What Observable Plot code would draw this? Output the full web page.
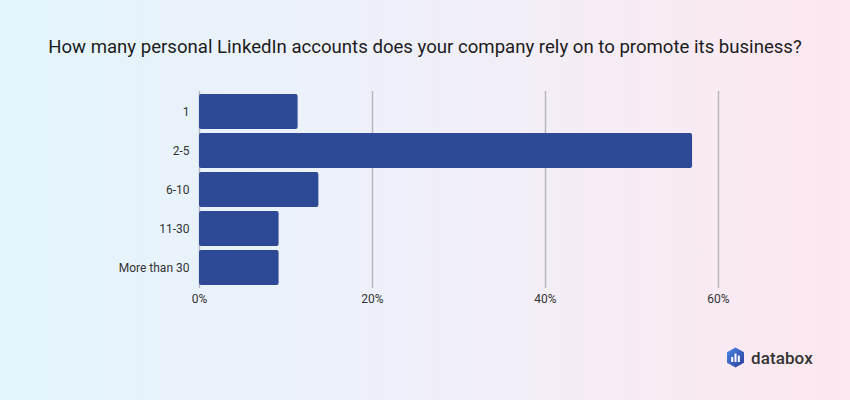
<!DOCTYPE html>
<html>
<head>
<meta charset="utf-8">
<script src="https://cdn.jsdelivr.net/npm/d3@7"></script>
<script src="https://cdn.jsdelivr.net/npm/@observablehq/plot@0.6"></script>
<style>
  html, body { margin: 0; padding: 0; }
  body { width: 850px; height: 400px; overflow: hidden; font-family: Roboto, sans-serif; }
  #wrap { position: relative; width: 850px; height: 400px;
    background: linear-gradient(to right, #e3f5fd 0%, #eef0f9 45%, #f7ecf5 75%, #fde7f0 100%); }
  #title { position: absolute; left: 0; top: 0; width: 850px; height: 70px; line-height: 94px;
    text-align: center; font-size: 18.6px; color: #1c1c1c; }
  #chart { position: absolute; left: 0; top: 70px; }
  #logo { position: absolute; left: 726px; top: 347px; display: flex; align-items: center; }
  #logo span { font-size: 17px; font-weight: 500; color: #333; margin-left: 6px; letter-spacing: 0.1px; }
</style>
</head>
<body>
<div id="wrap">
  <div id="title">How many personal LinkedIn accounts does your company rely on to promote its business?</div>
  <div id="chart"></div>
  <div id="logo">
    <svg width="19" height="21" viewBox="0 0 19 21">
      <defs>
        <linearGradient id="lg" x1="0" y1="0" x2="1" y2="1">
          <stop offset="0" stop-color="#4a86e8"/>
          <stop offset="1" stop-color="#2c3e98"/>
        </linearGradient>
      </defs>
      <path d="M9.5 0.5 L18 5.3 L18 15.7 L9.5 20.5 L1 15.7 L1 5.3 Z" fill="url(#lg)"/>
      <rect x="5.2" y="10" width="2" height="5" fill="#fff"/>
      <rect x="8.5" y="6.5" width="2" height="8.5" fill="#fff"/>
      <rect x="11.8" y="8.5" width="2" height="6.5" fill="#fff"/>
    </svg>
    <span>databox</span>
  </div>
</div>
<script>
const categories = ["1", "2-5", "6-10", "11-30", "More than 30"];
const values = [11.4, 57.0, 13.8, 9.2, 9.2];
const xTicks = [0, 20, 40, 60];

const data = categories.map((c, i) => ({category: c, value: values[i]}));

const chart = Plot.plot({
  width: 850,
  height: 330,
  marginLeft: 199,
  marginRight: 132,
  marginTop: 21,
  marginBottom: 112,
  style: {background: "transparent", fontFamily: "Roboto, sans-serif", fontSize: "12px", color: "#333"},
  x: {domain: [0, 60], ticks: xTicks, tickFormat: d => d + "%", tickSize: 0, tickPadding: 6, label: null},
  y: {domain: categories, paddingInner: 0.11, paddingOuter: 0.05, tickSize: 0, tickPadding: 10, label: null},
  marks: [
    Plot.ruleX(xTicks, {stroke: "#b8b8bc", strokeWidth: 1.5}),
    Plot.barX(data, {y: "category", x: "value", fill: "#2e4996", rx: 2}),
    Plot.axisX({ticks: xTicks, tickFormat: d => d + "%", tickSize: 0, tickPadding: 6, fill: "#333"}),
    Plot.axisY({tickSize: 0, tickPadding: 10, fill: "#333"})
  ]
});
document.getElementById("chart").appendChild(chart);
</script>
</body>
</html>
